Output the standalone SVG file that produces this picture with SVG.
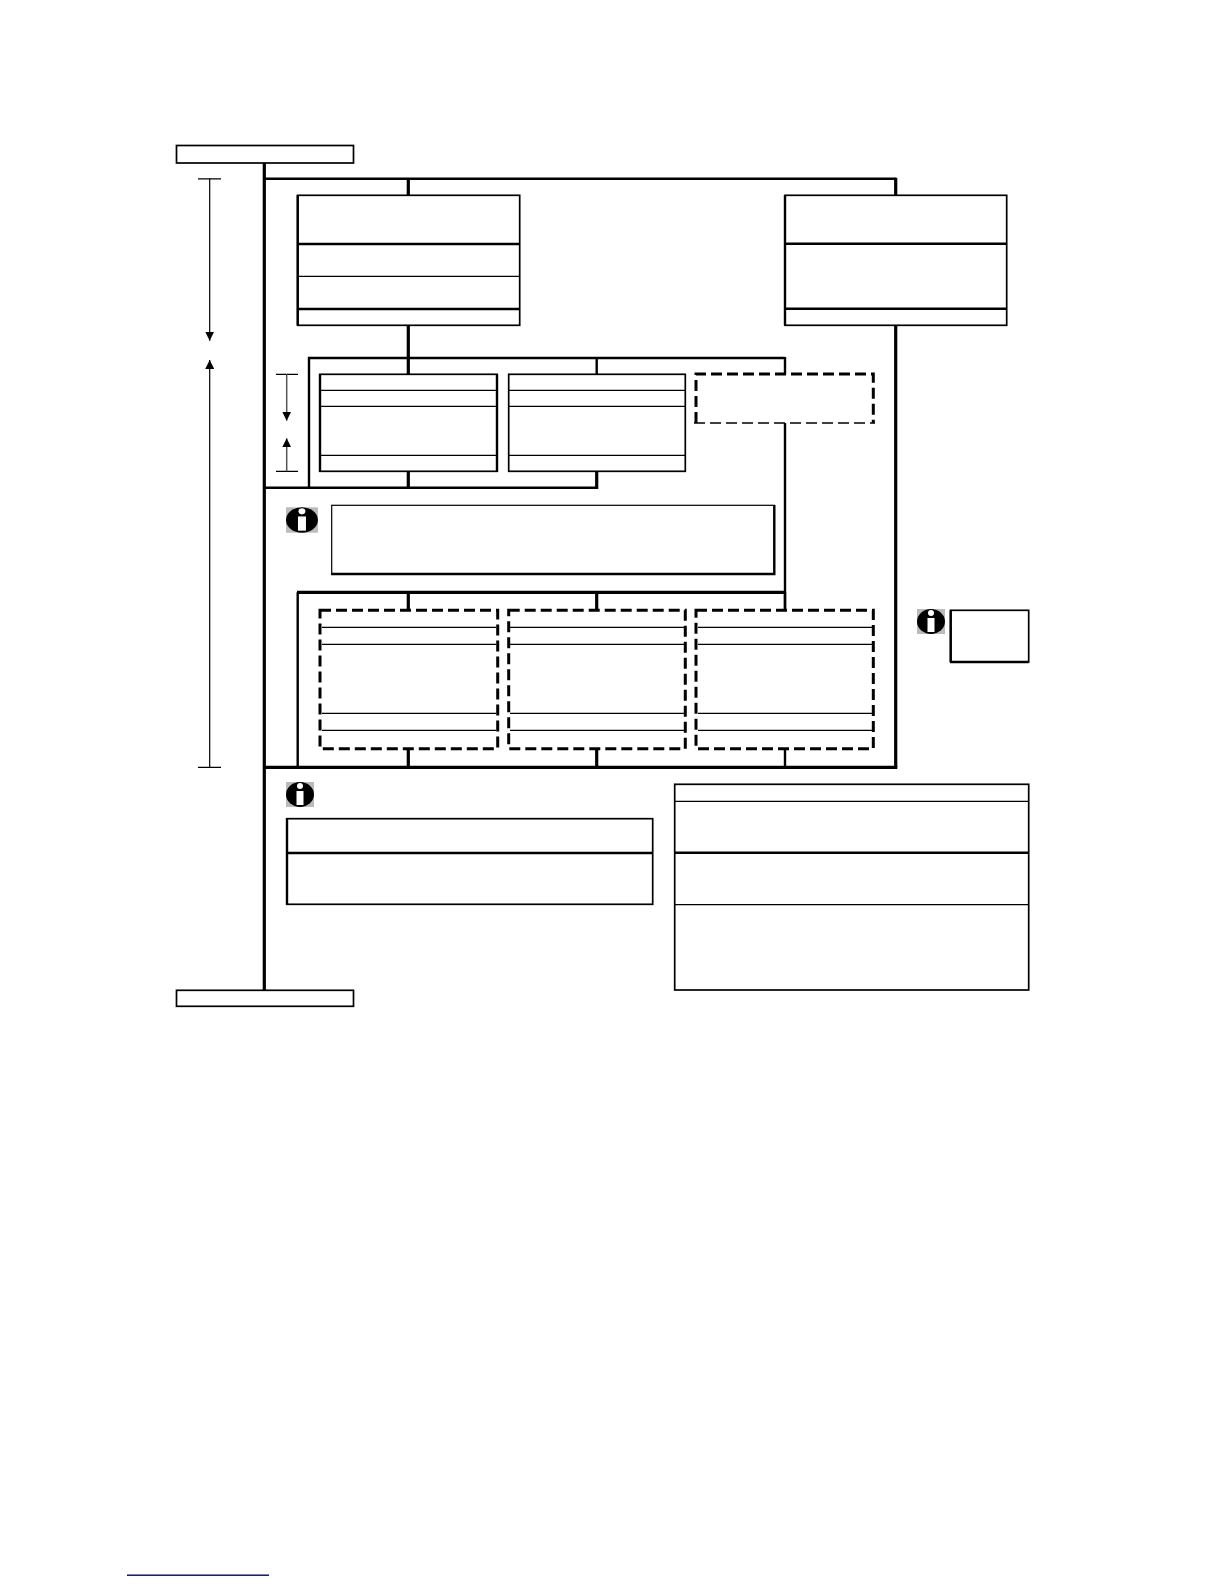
<svg xmlns="http://www.w3.org/2000/svg" width="1224" height="1584" viewBox="0 0 1224 1584">
<style>
.box{fill:#fff;stroke:#000;stroke-width:1.7}
.dash{fill:none;stroke:#000;stroke-width:3;stroke-dasharray:11 5}
.dashb{fill:none;stroke:#000;stroke-width:1.7;stroke-dasharray:11 5}
.thin{stroke:#000;stroke-width:1.3;fill:none}
.mid{stroke:#000;stroke-width:2.4;fill:none}
.thick{stroke:#000;stroke-width:3.2;fill:none}
.dim{stroke:#000;stroke-width:1.2;fill:none}
.dimg{stroke:#555;stroke-width:1.5;fill:none}
</style>
<defs>
<g id="info-icon">
<rect x="0" y="0" width="28" height="25" fill="#bbb"/>
<ellipse cx="14" cy="12.5" rx="14" ry="12.5" fill="#000"/>
<circle cx="14" cy="4" r="3" fill="#fff"/>
<rect x="10.5" y="9" width="7" height="14" fill="#fff"/>
</g>
<marker id="ah" viewBox="0 0 9 9" refX="9" refY="4.5" markerWidth="9" markerHeight="9" markerUnits="userSpaceOnUse" orient="auto"><path d="M0 0L9 4.5L0 9z" fill="#000"/></marker>
</defs>
<rect width="1224" height="1584" fill="#fff"/>
<g id="connectors">
<path class="thick" d="M264.3 163V990"/>
<path class="mid" d="M264 178.8H895.7"/>
<path class="thick" d="M895.7 177.8V767.3M408.3 179V195.3M895.7 179V195.3M408.3 325V374.3"/>
<path class="mid" d="M785 358H309V487.7"/>
<path class="mid" d="M264 487.7H596.7"/>
<path class="mid" d="M596.7 358V374.3M785 357V374M785 423V610.3"/>
<path class="thick" d="M408.3 471V487.7M596.7 471V488.9"/>
<path class="thick" d="M297 592.3H785"/>
<path class="mid" d="M297.7 592.3V767.3M785 592V610.3"/>
<path class="thick" d="M408.3 592V610.3M596.7 592V610.3M408.3 748.7V767.3M596.7 748.7V767.3"/>
<path class="mid" d="M785 748.7V767.3"/>
<path class="thick" d="M264 767.3H897.3"/>
</g>
<g id="dimensions">
<path class="dim" d="M198 178.8H221M198 767.3H221"/>
<path class="dim" d="M209.7 178.8V340.7" marker-end="url(#ah)"/>
<path class="dim" d="M209.7 767.3V360" marker-end="url(#ah)"/>
<path class="dim" d="M276 374.3H298M276 471.3H298"/>
<path class="dimg" d="M286.7 374.3V420.7" marker-end="url(#ah)"/>
<path class="dimg" d="M286.7 471.3V438.3" marker-end="url(#ah)"/>
</g>
<g id="node-top-bar"><rect class="box" x="176.5" y="145.5" width="177" height="17.5"/></g>
<g id="node-bottom-bar"><rect class="box" x="176.5" y="990.3" width="177" height="16"/></g>
<g id="node-box-a">
<rect class="box" x="297.7" y="195.3" width="222" height="130"/>
<path class="mid" d="M297.7 244H519.7M297.7 309H519.7M297.7 195V325.5"/><path class="thin" d="M297.7 276.3H519.7"/>
</g>
<g id="node-box-b">
<rect class="box" x="785" y="195.3" width="221.7" height="130"/>
<path class="mid" d="M785 243.7H1006.7M785 308.7H1006.7M785 195V325.5"/>
</g>
<g id="node-sub-a">
<rect class="box" x="320" y="374.3" width="177" height="97"/>
<path class="thin" d="M320 390.3H497M320 406.3H497M320 455.3H497"/>
<path class="mid" d="M320 374V472M497 374V472"/>
</g>
<g id="node-sub-b">
<rect class="box" x="508.7" y="374.3" width="176.6" height="97"/>
<path class="thin" d="M508.7 390.3H685.3M508.7 406.3H685.3M508.7 455.3H685.3"/>
</g>
<g id="node-sub-c"><rect x="696" y="374" width="177.3" height="49" fill="#fff"/><path class="dash" d="M696 423V374H873.3V423"/><path class="dashb" d="M694 423H875"/></g>
<g id="node-note-1">
<use href="#info-icon" transform="translate(286 507.3) scale(1.14 1.016)"/>
<rect x="331.7" y="505.3" width="442.6" height="68.7" fill="#fff" stroke="#000" stroke-width="1.2"/>
<path class="mid" d="M331 574H774.3V505"/>
</g>
<g id="node-opt-a">
<rect x="320" y="610.3" width="177.7" height="138.4" fill="#fff"/>
<path class="thin" d="M322 627.3H496M322 644.3H496M322 713.3H496M322 730.3H496"/>
<rect class="dash" x="320" y="610.3" width="177.7" height="138.4"/>
</g>
<g id="node-opt-b">
<rect x="508.7" y="610.3" width="176.6" height="138.4" fill="#fff"/>
<path class="thin" d="M510 627.3H684M510 644.3H684M510 713.3H684M510 730.3H684"/>
<rect class="dash" x="508.7" y="610.3" width="176.6" height="138.4"/>
</g>
<g id="node-opt-c">
<rect x="696" y="610.3" width="177.3" height="138.4" fill="#fff"/>
<path class="thin" d="M698 627.3H872M698 644.3H872M698 713.3H872M698 730.3H872"/>
<rect class="dash" x="696" y="610.3" width="177.3" height="138.4"/>
</g>
<g id="node-note-2">
<use href="#info-icon" x="917" y="609"/>
<rect class="box" x="950.7" y="610.3" width="78" height="51.7"/>
<path class="mid" d="M950 662H1028.7M950.7 610V662"/>
</g>
<g id="node-note-3">
<use href="#info-icon" x="286" y="782"/>
<rect class="box" x="287" y="818.7" width="365.7" height="85.6"/>
<path class="mid" d="M287 853H652.7M287 818V905"/>
</g>
<g id="node-table">
<rect class="box" x="674.7" y="784.3" width="354" height="205.7"/>
<path class="thin" d="M674.7 801.3H1028.7M674.7 904.7H1028.7"/>
<path class="mid" d="M674.7 852.7H1028.7"/>
</g>
<rect id="link-underline" x="127" y="1574.5" width="142" height="1.4" fill="#000080"/>
</svg>
